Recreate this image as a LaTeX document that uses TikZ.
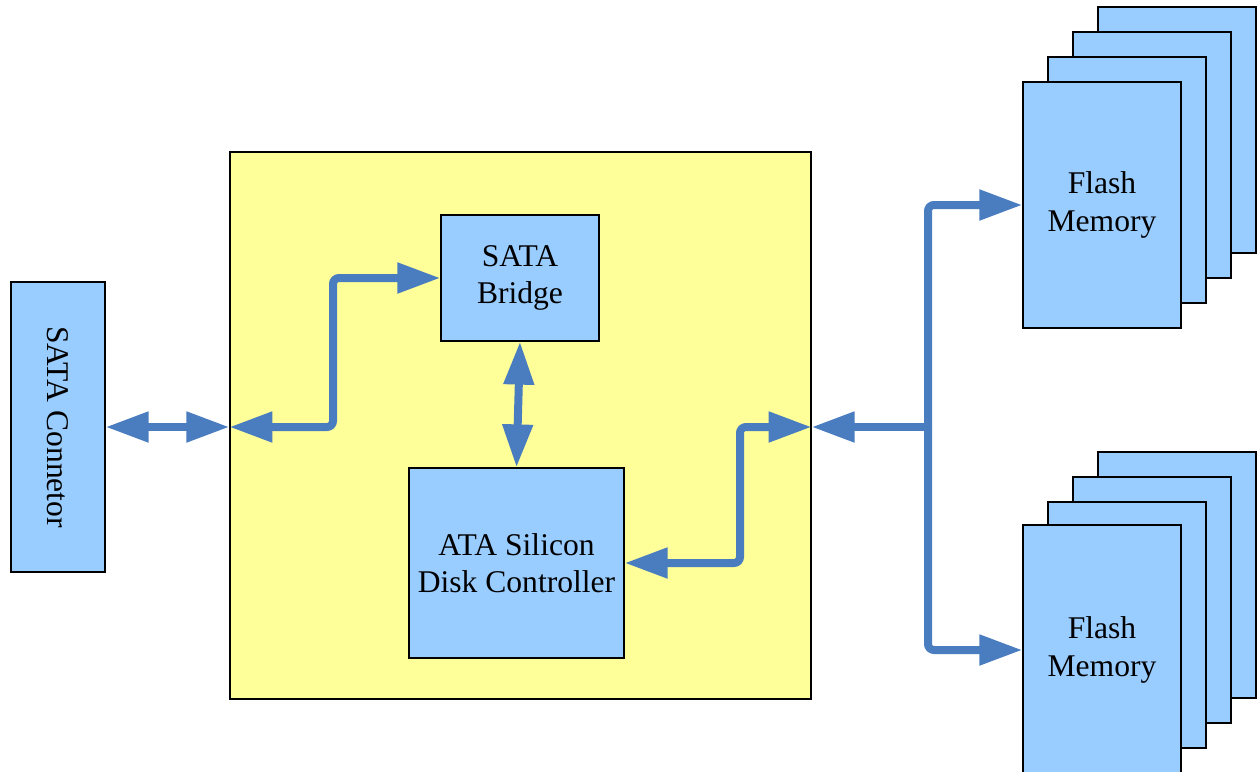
\documentclass[tikz,border=0pt]{standalone}
\usepackage{fontspec}
\setmainfont{Liberation Serif}
\usetikzlibrary{arrows.meta}
\definecolor{busblue}{RGB}{74,124,192}
\definecolor{chipblue}{RGB}{153,204,255}
\definecolor{boardyellow}{RGB}{255,255,153}

\begin{document}
\begin{tikzpicture}[x=0.5pt, y=-0.5pt,
		box/.style={draw=black, line width=0.6pt, fill=chipblue, inner sep=0pt, align=center},
		flashbox/.style={box, minimum width=79pt, minimum height=123pt},
		bus/.style={draw=busblue, line width=4pt, rounded corners=3pt},
		>={Triangle[length=21.5pt, width=14.5pt]}, %Pfeilspitzen
		font=\fontsize{15.8}{18.8}\selectfont]
		%Bildbereich
		\useasboundingbox (0,0) rectangle (1257,771);
		% Platine
		\node[box, fill=boardyellow, minimum width=290.5pt, minimum height=273.5pt] (ctrl) at (520.5,425.5) {};
		% Bausteine
		\node[box, minimum width=47pt, minimum height=145pt] (sataconn) at (58,427) {};
		\node[rotate=-90] at (sataconn.center) {SATA Connetor};
		\node[box, minimum width=79pt, minimum height=63pt] (bridge) at (520,278) {SATA\\Bridge};
		\node[box, minimum width=107.5pt, minimum height=95pt] (ata) at (516.5,563) {ATA Silicon\\Disk Controller};
		% Flash-Stapel
		\foreach \i in {3,2,1} {
			\node[flashbox] (fa\i) at ({1102+25*\i},{205-25*\i}) {};
			\node[flashbox] (fb\i) at ({1102+25*\i},{650-25*\i}) {};
		}
		\node[flashbox] (flasha) at (1102,205) {Flash\\Memory};
		\node[flashbox, minimum height=125pt] (flashb) at (1102,650) {Flash\\Memory};
		% Verbindungen
		\coordinate (lbend) at (333,427);
		\coordinate (rbend) at (740,427);
		\coordinate (split) at (928,427);
		\draw[bus,<->] (sataconn.east) -- (sataconn.east -| ctrl.west);
		\draw[bus,<->] (sataconn.east -| ctrl.west) -- (lbend) |- (bridge.west);
		\draw[bus,<->] (bridge.south) -- (ata.north);
		\draw[bus,<->] (ata.east) -| (rbend) -- (rbend -| ctrl.east);
		\draw[bus,->] (split) -- (split -| ctrl.east);
		\draw[bus,->] (split) |- (flasha.west);
		\draw[bus,->] (split) |- (flashb.west);
	\end{tikzpicture}
\end{document}
